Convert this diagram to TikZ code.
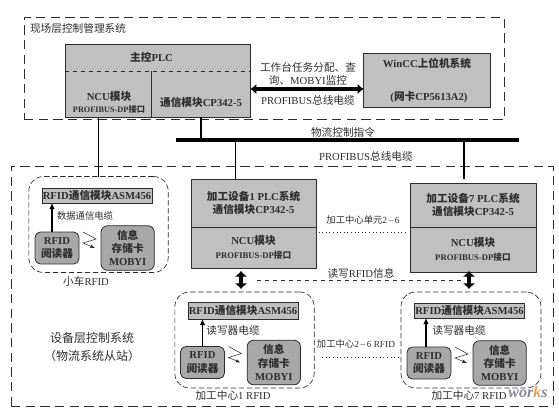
\documentclass[tikz,border=0pt]{standalone}
\usepackage{fontspec}
\setmainfont{Liberation Serif}
\newfontfamily\cjk{Noto Sans CJK SC}
\newcommand{\zh}[1]{{\cjk #1}}
\usetikzlibrary{arrows.meta,positioning}
\definecolor{plantGray}{RGB}{192, 192, 192}
\definecolor{readerGray}{RGB}{168, 168, 168}
\definecolor{inkGray}{RGB}{45, 45, 45}
\definecolor{markGray}{RGB}{135, 135, 150}
\definecolor{markOrange}{RGB}{232, 160, 90}

\begin{document}
\begin{tikzpicture}[x=0.75pt,y=-0.75pt,
  every node/.style={font=\fontsize{8}{10}\selectfont,text=inkGray,inner sep=0pt,outer sep=0pt,align=center},
  heavy/.style={font=\fontsize{8}{10}\bfseries\selectfont},
  small/.style={font=\fontsize{7}{9}\selectfont},
  region/.style={draw=inkGray,dashed,dash pattern=on 7pt off 4pt,line width=0.7pt},
  unit/.style={draw=inkGray,dashed,dash pattern=on 4pt off 2pt,line width=0.5pt,rounded corners=11pt,minimum width=104.5pt,minimum height=72pt},
  plant/.style={draw=inkGray,fill=plantGray,line width=0.6pt,heavy},
  asmbox/.style={plant,minimum width=82.5pt,minimum height=12pt},
  reader/.style={plant,fill=readerGray,rounded corners=4pt,minimum width=33pt,minimum height=24pt},
  card/.style={plant,fill=readerGray,rounded corners=5pt,minimum width=40pt,minimum height=33.5pt},
  wire/.style={draw=black,line width=1pt},
  riser/.style={-{Latex[length=1.6mm,width=1.5mm]},draw=black,line width=1.1pt},
  wave/.style={-{Latex[length=1.2mm]},draw=inkGray,line width=0.4pt},
  fat/.style={{Latex[length=1.6mm,width=2.8mm]}-{Latex[length=1.6mm,width=2.8mm]},draw=black,line width=2.8pt},
  fatter/.style={{Latex[length=1.5mm,width=3.4mm]}-{Latex[length=1.5mm,width=3.4mm]},draw=black,line width=3.4pt},
  dots/.style={draw=inkGray,dotted,line width=0.7pt}
]
  \useasboundingbox (0,0) rectangle (559,412);

  % upper system
  \node[region,minimum width=360pt,minimum height=77pt] (fieldbox) at (264,68.5) {};
  \node (fieldtitle) at (78,28) {\zh{现场层控制管理系统}};
  \node[plant,minimum width=139pt,minimum height=54.75pt] (mainplc) at (157.8,80.5) {};
  \node[heavy] (maintitle) at (151.5,57) {\zh{主控}PLC};
  \node[minimum width=65pt,minimum height=34.5pt] (ncu) at (108.3,94) {};
  \node[minimum width=74pt,minimum height=34.5pt] (cp) at (201,94) {};
  \node[heavy] (ncutext) at (109,102) {NCU\zh{模块}\\[-1pt]\fontsize{6.2}{8}\selectfont PROFIBUS-DP\zh{接口}};
  \node[heavy] (cptext) at (201,102) {\zh{通信模块}CP342-5};
  \draw[inkGray,dashed,line width=0.5pt] (ncu.north west) -- (cp.north east);
  \draw[inkGray,line width=0.5pt] (ncu.north east) -- (ncu.south east);
  \node[plant,minimum width=95pt,minimum height=40.5pt] (wincc) at (427,80) {};
  \node[heavy] (wincctitle) at (427,63) {WinCC\zh{上位机系统}};
  \node[heavy] (winccnic) at (429,97) {(\zh{网卡}CP5613A2)};
  \draw[fat] ([yshift=3.75pt]cp.east) -- ([yshift=3.75pt]cp.east -| wincc.west);
  \node (tasktext) at (308,74) {\zh{工作台任务分配、查}\\\zh{询、}MOBYI\zh{监控}};
  \node (cabletop) at (308,100) {PROFIBUS\zh{总线电缆}};

  % bus
  \node[fill=black,minimum width=257pt,minimum height=2.6pt] (bus) at (347.5,140) {};
  \node (bustitle) at (343,132) {\zh{物流控制指令}};
  \node (buscable) at (366,156) {PROFIBUS\zh{总线电缆}};
  \draw[wire] (cp.south) -- (cp.south |- bus.north);

  % lower system
  \node[region,minimum width=406.5pt,minimum height=180pt] (devicebox) at (282,286) {};
  \node[font=\fontsize{9}{13}\selectfont] (devicetext) at (92,347) {\zh{设备层控制系统}\\\zh{（物流系统从站）}};

  % trolley
  \node[unit] (trolley) at (98.5,224.5) {};
  \node[asmbox,minimum height=11.25pt] (asmcart) at (97,195.5) {RFID\zh{通信模块}ASM456};
  \node[reader] (readercart) at (57,248) {RFID\\\zh{阅读器}};
  \node[card,right=16.5pt of readercart] (cardcart) {\zh{信息}\\\zh{存储卡}\\MOBYI};
  \node[small] (cablecart) at (85,216) {\zh{数据通信电缆}};
  \node (cartname) at (86,281) {\zh{小车}RFID};
  \draw[riser] ([xshift=-3.75pt]readercart.north) -- ([xshift=-3.75pt]readercart.north |- asmcart.south);
  \draw[wave] ([shift={(3pt,12pt)}]readercart.east) -- ++(13,7) -- ++(-13,4) -- ++(12,5);
  \draw[wire] (ncu.south -| trolley.north) -- (trolley.north);

  % machining centre 1
  \node[plant,minimum width=93.75pt,minimum height=36pt] (plcone) at (253.5,203) {\zh{加工设备}1 PLC\zh{系统}\\\zh{通信模块}CP342-5};
  \node[plant,below=0pt of plcone,minimum width=93.75pt,minimum height=30.75pt] (ncuone) {NCU\zh{模块}\\\fontsize{6.5}{8}\selectfont PROFIBUS-DP\zh{接口}};
  \node[unit] (unitone) at (244.5,340) {};
  \node[asmbox,minimum height=12.75pt] (asmone) at (243,310.5) {RFID\zh{通信模块}ASM456};
  \node[reader] (readerone) at (202.5,362.5) {RFID\\\zh{阅读器}};
  \node[card,right=17pt of readerone] (cardone) {\zh{信息}\\\zh{存储卡}\\MOBYI};
  \node (cableone) at (233,330) {\zh{读写器电缆}};
  \node (oneName) at (233,395) {\zh{加工中心}1 RFID};
  \draw[riser] (readerone.north) -- (readerone.north |- asmone.south);
  \draw[wave] ([shift={(3pt,12pt)}]readerone.east) -- ++(13,7) -- ++(-13,4) -- ++(12,5);
  \draw[wire] ([xshift=-13.5pt]plcone.north) -- ([xshift=-13.5pt]plcone.north |- bus.south);

  % machining centre 7
  \node[plant,minimum width=94.5pt,minimum height=33pt] (plcseven) at (473,205) {\zh{加工设备}7 PLC\zh{系统}\\\zh{通信模块}CP342-5};
  \node[plant,below=0pt of plcseven,minimum width=94.5pt,minimum height=33.75pt] (ncuseven) {NCU\zh{模块}\\\fontsize{6.5}{8}\selectfont PROFIBUS-DP\zh{接口}};
  \node[unit,minimum width=105pt] (unitseven) at (471,340) {};
  \node[asmbox,minimum height=11.25pt] (asmseven) at (469.5,310.5) {RFID\zh{通信模块}ASM456};
  \node[reader] (readerseven) at (429,363) {RFID\\\zh{阅读器}};
  \node[card,right=16.5pt of readerseven] (cardseven) {\zh{信息}\\\zh{存储卡}\\MOBYI};
  \node (cableseven) at (459,330) {\zh{读写器电缆}};
  \node (sevenName) at (469,395) {\zh{加工中心}7 RFID};
  \draw[riser] ([xshift=-2.25pt]readerseven.north) -- ([xshift=-2.25pt]readerseven.north |- asmseven.south);
  \draw[wave] ([shift={(3pt,12pt)}]readerseven.east) -- ++(13,7) -- ++(-13,4) -- ++(12,5);
  \draw[wire,shorten <=3pt] ([xshift=-6.75pt]plcseven.north) -- ([xshift=-6.75pt]plcseven.north |- bus.south);
  \node[font=\fontsize{12}{12}\bfseries\itshape\selectfont,text=markGray] (worksmark) at (528,392) {wor{\color{markOrange}k}s};

  % links between the centres
  \coordinate (fatone) at (241,280);
  \coordinate (fatseven) at (469,280);
  \draw[fatter] (241,271) -- (241,289);
  \draw[fatter] (469,271) -- (469,289);
  \draw[inkGray,dashed,line width=0.5pt] ([xshift=12pt]fatone) -- ([xshift=-3.5pt]fatseven);
  \node (rwtext) at (361,273) {\zh{读写}RFID\zh{信息}};
  \draw[dots] ([yshift=-3.75pt,xshift=2pt]ncuone.north east) -- ([yshift=-3.75pt,xshift=-2pt]ncuone.north east -| ncuseven.north west);
  \node[small] (midtext) at (363,220) {\zh{加工中心单元}2\,–\,6};
  \draw[dots] ([yshift=-12.75pt,xshift=6pt]unitone.east) -- ([yshift=-12.75pt,xshift=-2pt]unitone.east -| unitseven.west);
  \node[small] (midrfid) at (356,344) {\zh{加工中心}2\,–\,6 RFID};
\end{tikzpicture}
\end{document}
